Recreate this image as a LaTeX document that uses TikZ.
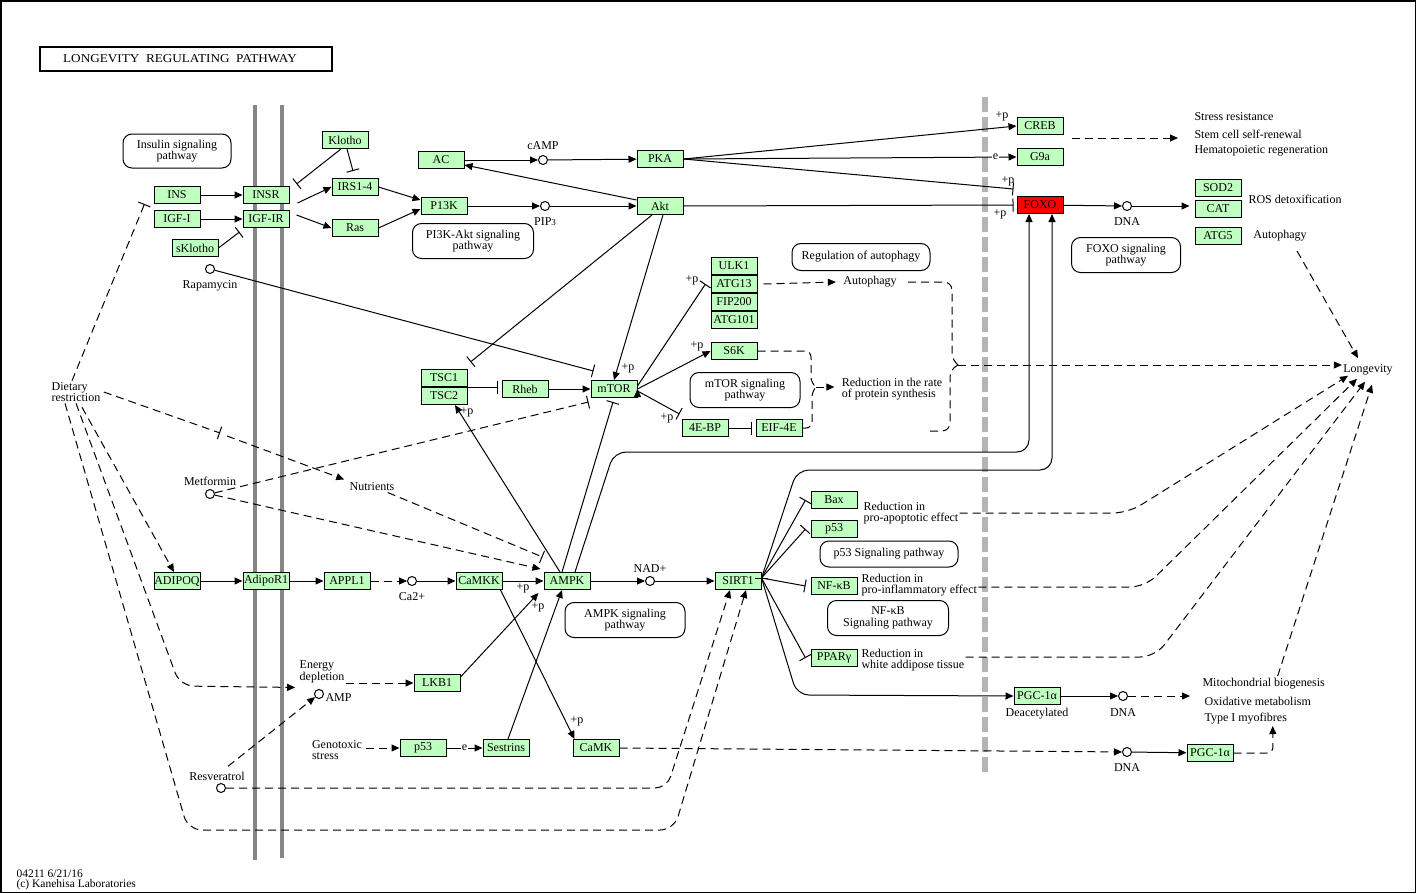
\documentclass[tikz,border=0pt]{standalone}
\usepackage{fontspec}
\setmainfont{Liberation Serif}
\usetikzlibrary{positioning,arrows.meta}
\definecolor{keggreen}{HTML}{BFFFBF}
\definecolor{membrane}{HTML}{868686}
\definecolor{divider}{HTML}{B4B4B4}
\newcommand{\kfont}{\fontsize{12}{11.5}\selectfont}
\tikzset{gene node/.style={draw,fill=keggreen,minimum width=46pt,minimum height=17pt,inner sep=0pt,font=\kfont},
         map node/.style={draw,rounded corners=9pt,align=center,font=\kfont,inner sep=0pt},
         cpd node/.style={circle,draw,fill=white,minimum size=9pt,inner sep=0pt},
         text node/.style={font=\kfont,align=center,inner sep=1pt},
         act/.style={-{Triangle[length=8pt,width=7pt]}},
         inh/.style={-{Bar[width=13pt]}},
         ind/.style={dash pattern=on 8pt off 5pt},
            }

\begin{document}
\begin{tikzpicture}[x=1pt,y=-1pt,line width=1pt]
    \useasboundingbox (0,0) rectangle (1417,894);
    \draw[line width=1.5pt] (0.75,0.75) rectangle (1415.5,892.5);

    % membranes and divider
    \draw[membrane,line width=4pt] (255,105) -- (255,860);
    \draw[membrane,line width=4pt] (282,105) -- (282,858);
    \draw[divider,line width=6pt,dash pattern=on 15pt off 5pt] (985,97) -- (985,773);

    \node[draw,line width=1.6pt,minimum width=292pt,minimum height=24pt,inner sep=0pt,font=\fontsize{12}{12}\selectfont] (title) at (186,59) {\scalebox{1.1}[1]{LONGEVITY\ \ REGULATING\ \ PATHWAY}\hspace*{12pt}};

    % pathway maps
    \node[map node,minimum width=108pt,minimum height=34pt] (insmap) at (177,151) {Insulin signaling\\pathway};
    \node[map node,minimum width=121pt,minimum height=35pt] (pi3kmap) at (473,241) {PI3K-Akt signaling\\pathway};
    \node[map node,minimum width=138pt,minimum height=27pt] (autmap) at (861,257) {Regulation of autophagy};
    \node[map node,minimum width=109pt,minimum height=35pt] (foxomap) at (1126,255) {FOXO signaling\\pathway};
    \node[map node,minimum width=110pt,minimum height=35pt] (mtormap) at (745,390) {mTOR signaling\\pathway};
    \node[map node,minimum width=120pt,minimum height=35pt] (ampkmap) at (625,620) {AMPK signaling\\pathway};
    \node[map node,minimum width=138pt,minimum height=26pt] (p53map) at (889,554) {p53 Signaling pathway};
    \node[map node,minimum width=121pt,minimum height=35pt] (nfkbmap) at (888,618) {NF-κB\\Signaling pathway};

    % genes
    \node[gene node] (ins) at (177,195) {INS};
    \node[gene node] (igf1) at (177,219) {IGF-I};
    \node[gene node] (insr) at (266,195) {INSR};
    \node[gene node] (igf1r) at (266,219) {IGF-IR};
    \node[gene node] (sklotho) at (195,248) {sKlotho};
    \node[gene node] (klotho) at (345,140) {Klotho};
    \node[gene node] (irs) at (355,187) {IRS1-4};
    \node[gene node] (ras) at (355,228) {Ras};
    \node[gene node] (ac) at (441,160) {AC};
    \node[gene node] (p13k) at (444,206) {P13K};
    \node[gene node] (pka) at (660,159) {PKA};
    \node[gene node] (akt) at (660,206) {Akt};
    \node[gene node] (creb) at (1040,126) {CREB};
    \node[gene node] (g9a) at (1040,157) {G9a};
    \node[gene node,fill=red] (foxo) at (1040,205) {FOXO};
    \node[gene node] (sod2) at (1218,188) {SOD2};
    \node[gene node] (cat) [below=3pt of sod2] {CAT};
    \node[gene node] (atg5) at (1218,236) {ATG5};
    \node[gene node] (ulk1) at (734,266) {ULK1};
    \node[gene node] (atg13) [below=0pt of ulk1] {ATG13};
    \node[gene node] (fip200) [below=0pt of atg13] {FIP200};
    \node[gene node] (atg101) [below=0pt of fip200] {ATG101};
    \node[gene node] (s6k) at (734,351) {S6K};
    \node[gene node] (tsc1) at (444,378) {TSC1};
    \node[gene node] (tsc2) [below=0pt of tsc1] {TSC2};
    \node[gene node] (rheb) at (525,389) {Rheb};
    \node[gene node] (mtor) at (614,389) {mTOR};
    \node[gene node] (febp) at (705,428) {4E-BP};
    \node[gene node] (eif) at (779,428) {EIF-4E};
    \node[gene node] (bax) at (834,500) {Bax};
    \node[gene node] (p53a) at (834,529) {p53};
    \node[gene node] (nfkb) at (834,586) {NF-κB};
    \node[gene node] (pparg) at (834,658) {PPARγ};
    \node[gene node] (adipoq) at (177,581) {ADIPOQ};
    \node[gene node] (adipor1) at (266,581) {AdipoR1};
    \node[gene node] (appl1) at (347,581) {APPL1};
    \node[gene node] (camkk) at (479,581) {CaMKK};
    \node[gene node] (ampk) at (567,581) {AMPK};
    \node[gene node] (sirt1) at (738,581) {SIRT1};
    \node[gene node] (lkb1) at (437,683) {LKB1};
    \node[gene node] (p53b) at (423,748) {p53};
    \node[gene node] (sestrins) at (506,748) {Sestrins};
    \node[gene node] (camk) at (596,748) {CaMK};
    \node[gene node] (pgc1) at (1037,696) {PGC-1α};
    \node[gene node] (pgc2) at (1210,753) {PGC-1α};

    % compounds
    \node[cpd node,label={[text node,yshift=4pt]above:cAMP}] (camp) at (543,160) {};
    \node[cpd node,label={[text node,yshift=-5pt]below:PIP{\fontsize{9}{9}\selectfont 3}}] (pip3) at (545,206) {};
    \node[cpd node,label={[text node,yshift=-5pt]below:DNA}] (dna1) at (1127,206) {};
    \node[cpd node,label={[text node,yshift=-5pt]below:Rapamycin}] (rapa) at (210,269) {};
    \node[cpd node,label={[text node,yshift=2pt]above:Metformin}] (metf) at (210,494) {};
    \node[cpd node,label={[text node,yshift=-5pt]below:Ca2+}] (ca) at (412,581) {};
    \node[cpd node,label={[text node,yshift=2pt]above:NAD+}] (nad) at (650,581) {};
    \node[cpd node,label={[text node,yshift=-4pt]right:AMP}] (amp) at (319,694) {};
    \node[cpd node] (resv) at (221,788) {};
    \node[cpd node,label={[text node,yshift=-6pt]below:DNA}] (dna2) at (1123,696) {};
    \node[cpd node,label={[text node,yshift=-5pt]below:DNA}] (dna3) at (1127,752) {};

    % texts
    \node[text node,align=left] (diet) at (76,392) {Dietary\\restriction};
    \node[text node] (nutr) at (372,487) {Nutrients};
    \node[text node,align=left] (energy) at (322,672) {Energy\\depletion};
    \node[text node,align=left] (geno) at (337,750) {Genotoxic\\stress};
    \node[text node] (resvtxt) at (217,776) {Resveratrol};
    \node[text node] (autoph1) at (870,282) {Autophagy};
    \node[text node,align=left] (redprot) at (892,389) {Reduction in the rate\\of protein synthesis};
    \node[text node,anchor=west] (stress1) at (1193,117) {Stress resistance};
    \node[text node,anchor=west] (stress2) at (1193,134) {Stem cell self-renewal};
    \node[text node,anchor=west] (stress3) at (1193,151) {Hematopoietic regeneration};
    \node[text node] (ros) at (1295,199) {ROS detoxification};
    \node[text node] (autoph2) at (1280,236) {Autophagy};
    \node[text node] (longev) at (1368,370) {Longevity};
    \node[text node,align=left,anchor=west] (redapo) at (862,513) {Reduction in\\pro-apoptotic effect};
    \node[text node,align=left,anchor=west] (redinf) at (860,585) {Reduction in\\pro-inflammatory effect};
    \node[text node,align=left,anchor=west] (redwat) at (860,660) {Reduction in\\white addipose tissue};
    \node[text node] (deac) at (1037,714) {Deacetylated};
    \node[text node,anchor=west] (mito1) at (1201,684) {Mitochondrial biogenesis};
    \node[text node,anchor=west] (mito2) at (1203,701) {Oxidative metabolism};
    \node[text node,anchor=west] (mito3) at (1203,719) {Type I myofibres};
    \node[inner sep=0pt,anchor=west,font=\fontsize{11.5}{11.5}\selectfont] (ver) at (16,874) {04211 6/21/16};
    \node[inner sep=0pt,anchor=west,font=\fontsize{11.5}{11.5}\selectfont] (copy) at (16,885) {(c) Kanehisa Laboratories};

    % +p marks
    \node[text node] (lp1) at (1002,116) {+p};
    \node[text node] (lp2) at (1008,181) {+p};
    \node[text node] (lp3) at (1000,214) {+p};
    \node[text node] (lp4) at (628,368) {+p};
    \node[text node] (lp5) at (692,280) {+p};
    \node[text node] (lp6) at (697,346) {+p};
    \node[text node] (lp7) at (667,418) {+p};
    \node[text node] (lp8) at (467,412) {+p};
    \node[text node] (lp9) at (523,588) {+p};
    \node[text node] (lp10) at (538,607) {+p};
    \node[text node] (lp11) at (577,721) {+p};

    % plain activations
    \path[draw,act]
    (ins) edge (insr)
    (igf1) edge (igf1r)
    (p13k) edge (pip3)
    (pip3) edge (akt)
    (ac) edge (camp)
    (camp) edge (pka)
    (foxo) edge (dna1)
    (adipoq) edge (adipor1)
    (adipor1) edge (appl1)
    (ca) edge (camkk)
    (camkk) edge (ampk)
    (ampk) edge (nad)
    (nad) edge (sirt1)
    (rheb) edge (mtor)
    (mtor.east) edge (s6k.west)
    (pgc1) edge (dna2)
    (dna3) edge (pgc2)
    (p53b) edge node[text node,fill=white] (le2) {e} (sestrins);

    % insulin part
    \draw[act] ([xshift=8pt,yshift=-8pt]insr.east) -- (irs.west);
    \draw[act] ([xshift=7pt,yshift=4pt]igf1r.east) -- (ras.west);
    \draw[act] (irs.east) -- ([yshift=6pt]p13k.west);
    \draw[act] (ras.east) -- ([yshift=-3pt]p13k.west);
    \draw[inh] ([xshift=-4pt]klotho.south) -- ([xshift=7pt,yshift=2pt]insr.north east);
    \draw[inh] ([xshift=2pt]klotho.south) -- ([xshift=-2pt,yshift=7pt]irs.north);
    \draw[inh] (sklotho.east) -- ([xshift=-3pt,yshift=-4pt]igf1r.south west);

    % Akt and PKA
    \draw[act] ([yshift=6pt]akt.west) -- ([yshift=-5pt]ac.east);
    \draw[act] (pka.east) -- (creb.west);
    \draw[act] (pka.east) -- node[pos=0.937,text node,fill=white] (le1) {e} (g9a.west);
    \draw[inh] (pka.east) -- ([xshift=-3pt,yshift=16pt]foxo.west);
    \draw[inh] (akt.east) -- ([xshift=-3pt]foxo.west);
    \draw[act] (dna1) -- ([xshift=-5pt]dna1 -| cat.west);
    \draw[ind,act] ([xshift=8pt,yshift=-12pt]creb.east) -- ([xshift=-15pt,yshift=-4pt]stress2.west);
    \draw[inh] ([xshift=-8pt]akt.south) -- ([xshift=3pt,yshift=7pt]tsc1.north east);
    \draw[act] ([xshift=3pt]akt.south) -- (mtor.north);

    % mTOR part
    \draw[inh] (rapa) -- ([xshift=3pt,yshift=9pt]mtor.north west);
    \draw[inh] (tsc1.south east) -- ([xshift=-4pt]rheb.west |- tsc1.south east);
    \draw[inh] ([yshift=3pt]mtor.east) -- ([xshift=-5pt]atg13.west);
    \draw[inh] ([yshift=-2pt]mtor.east) -- ([xshift=-2pt,yshift=5pt]febp.north west);
    \draw[inh] (febp.east) -- ([xshift=-4pt]eif.west);
    \draw[ind,act] ([xshift=6pt]atg13.east) -- ([xshift=-6pt]autoph1.west);

    \coordinate (brace1) at (816,387);
    \draw[ind,rounded corners=6pt] (s6k.east) -- (811,351) -- (811,383) -- (brace1);
    \draw[ind,rounded corners=6pt] (eif.east) -- (812,428) -- (812,391) -- (brace1);
    \draw[ind,act] (brace1) -- ([xshift=-6pt]redprot.west |- brace1);

    \coordinate (brace2) at (958,365);
    \coordinate (pslow) at (930,431);
    \draw[ind,rounded corners=8pt] ([xshift=10pt]autoph1.east) -- (952,282) -- (952,361) -- (brace2);
    \draw[ind,rounded corners=8pt] (pslow) -- (950,431) -- (950,369) -- (brace2);
    \draw[ind,act] (brace2) -- (longev.west |- brace2);

    % dietary restriction, drugs
    \draw[ind,inh] ([xshift=-4pt]diet.north) -- ([xshift=-9pt]ins.south west);
    \coordinate (dmid) at (220,433);
    \draw[ind,inh] ([xshift=2pt]diet.east) -- (dmid);
    \draw[ind,act] ([xshift=7pt,yshift=-3pt]dmid) -- ([xshift=-4pt,yshift=2pt]nutr.north west);
    \draw[ind,inh] ([xshift=-8pt]nutr.south east) -- ([xshift=-1pt,yshift=15pt]ampk.north west);
    \draw[ind,act] ([xshift=6pt,yshift=-4pt]diet.south) -- ([xshift=-3pt]adipoq.north);
    \draw[ind,act,rounded corners=14pt] (diet.south) -- (180,686) -- ([xshift=-3pt,yshift=-3pt]energy.south west);
    \draw[ind,act,rounded corners=14pt] ([xshift=-11pt]diet.south) -- (188,830) -- (674,830) -- ([xshift=8pt]sirt1.south);
    \draw[ind,inh] (metf) -- ([xshift=-2pt,yshift=-4pt]mtor.south west);
    \draw[ind,act] (metf) -- ([xshift=-3pt,yshift=12pt]ampk.west);
    \draw[ind,act,rounded corners=12pt] (resv) -- (667,788) -- ([xshift=-8pt]sirt1.south);
    \draw[ind,act] ([xshift=11pt,yshift=4pt]resvtxt.north) -- (amp);
    \draw[ind,act] (energy.east |- lkb1) -- (lkb1.west);
    \draw[ind,act] ([xshift=3pt]geno.east |- p53b) -- (p53b.west);
    \draw[ind,act] (appl1) -- (ca);

    % AMPK part
    \draw[act] ([yshift=6pt]lkb1.east) -- ([xshift=-5pt,yshift=-3pt]ampk.south west);
    \draw[act] ([xshift=2pt]sestrins.north) -- ([xshift=-5pt]ampk.south);
    \draw[act] ([xshift=-2pt]camkk.south east) -- ([xshift=2pt]camk.north west);
    \draw[act] ([xshift=-7pt]ampk.north) -- ([xshift=11pt]tsc2.south);
    \draw[inh] ([xshift=-5pt]ampk.north) -- ([xshift=-1pt,yshift=-4pt]mtor.south);
    \draw[act,rounded corners=12pt] ([xshift=8pt]ampk.north) -- (614,452) -- (1029,452) -- ([xshift=-11pt]foxo.south);
    \draw[ind,act] (camk.east) -- (dna3);

    % SIRT1 part
    \path[draw,inh] ([yshift=3pt]sirt1.east)
    edge ([xshift=-5pt]bax.west)
    edge ([xshift=-5pt]p53a.west)
    edge ([xshift=-5pt]nfkb.west)
    edge ([xshift=-5pt]pparg.west);
    \draw[act,rounded corners=12pt] ([yshift=3pt]sirt1.east) -- (797,470) -- (1052,470) -- ([xshift=12pt]foxo.south);
    \draw[act,rounded corners=12pt] ([yshift=3pt]sirt1.east) -- (797,695) -- (pgc1.west);

    % towards longevity
    \draw[ind,act] (dna2) -- ([xshift=-13pt]mito2.west |- dna2);
    \draw[ind,act,rounded corners=6pt] (pgc2.east) -- (1273,753) -- ([xshift=27pt]mito3.south);
    \draw[ind,act] ([xshift=17pt,yshift=-8pt]autoph2.south) -- ([xshift=-10pt,yshift=5pt]longev.north);
    \draw[ind,act,rounded corners=15pt] (redapo.east) -- (1128,513) -- ([xshift=-20pt,yshift=1pt]longev.south);
    \draw[ind,act,rounded corners=15pt] ([yshift=-2pt]redinf.east) -- (1145,587) -- ([xshift=-11pt,yshift=-2pt]longev.south);
    \draw[ind,act,rounded corners=15pt] ([yshift=3pt]redwat.east) -- (1155,657) -- ([xshift=-3pt,yshift=-5pt]longev.south);
    \draw[ind,act] ([xshift=14pt,yshift=1pt]mito1.north) -- ([xshift=4pt,yshift=-8pt]longev.south);
\end{tikzpicture}
\end{document}
